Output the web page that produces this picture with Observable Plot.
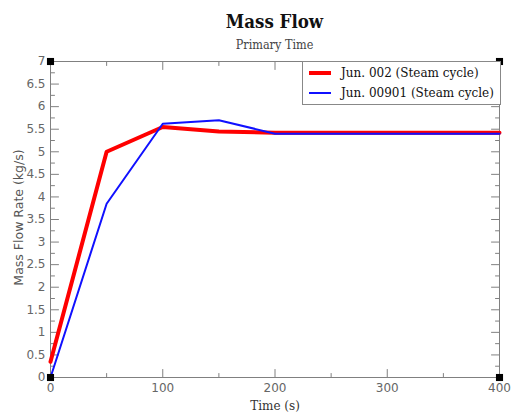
<!DOCTYPE html>
<html><head><meta charset="utf-8">
<script src="https://cdn.jsdelivr.net/npm/d3@7"></script>
<script src="https://cdn.jsdelivr.net/npm/@observablehq/plot@0.6"></script>
<style>
body{margin:0;background:#fff;width:512px;height:414px;overflow:hidden;position:relative}
#head{position:relative;height:54px}
#title{position:absolute;left:50px;width:449px;top:12px;text-align:center;font:bold 18.5px/19px "DejaVu Serif Condensed","DejaVu Serif",serif;font-stretch:condensed;color:#111}
#sub{position:absolute;left:50px;width:449px;top:38.5px;text-align:center;font:12.5px/12.5px "DejaVu Serif Condensed","DejaVu Serif",serif;font-stretch:condensed;color:#444}
#legend{position:absolute;left:302px;top:61px;width:197px;height:42px;border:1px solid #888;background:#fff;font:12px "DejaVu Serif",serif;color:#111}
.sw{position:absolute;left:6px;width:22px}
.lt{position:absolute;left:38px;white-space:nowrap;line-height:12px}
</style></head><body>
<div id="head"><div id="title">Mass Flow</div><div id="sub">Primary Time</div></div>
<div id="chart"></div>
<div id="legend"></div>
<script>
const time = [0, 50, 100, 150, 200, 400];
const jun002 = [0.35, 5.0, 5.55, 5.45, 5.42, 5.42];
const jun00901 = [0.0, 3.85, 5.62, 5.70, 5.40, 5.40];
const seriesNames = ["Jun. 002 (Steam cycle)", "Jun. 00901 (Steam cycle)"];
const seriesColors = ["#ff0000", "#1010ff"];
const seriesWidths = [4, 2];
const xMajor = [0, 100, 200, 300, 400];
const xMinor = [50, 150, 250, 350];
const yMajor = [0, 0.5, 1, 1.5, 2, 2.5, 3, 3.5, 4, 4.5, 5, 5.5, 6, 6.5, 7];
const yMinor = [0.25, 0.75, 1.25, 1.75, 2.25, 2.75, 3.25, 3.75, 4.25, 4.75, 5.25, 5.75, 6.25, 6.75];
const xLabel = "Time (s)";
const yLabel = "Mass Flow Rate (kg/s)";

const rows = time.flatMap((t, i) => [
  {t, v: jun002[i], s: seriesNames[0]},
  {t, v: jun00901[i], s: seriesNames[1]}
]);
const tickShape = {draw(ctx, l) { ctx.moveTo(0, 0); ctx.lineTo(0, -l); }};
const gray = "#808080";
function yTicks(vals, len, anchor, rot) {
  return Plot.vector(vals, {y: d => d, frameAnchor: anchor, rotate: rot, length: len, anchor: "start", shape: tickShape, stroke: gray, strokeWidth: 1});
}
function xTicks(vals, len, anchor, rot) {
  return Plot.vector(vals, {x: d => d, frameAnchor: anchor, rotate: rot, length: len, anchor: "start", shape: tickShape, stroke: gray, strokeWidth: 1});
}
const fmt = d => String(d);

const chart = Plot.plot({
  width: 512, height: 360,
  marginLeft: 50, marginRight: 13, marginTop: 7, marginBottom: 37,
  style: {fontFamily: "'DejaVu Sans', sans-serif", fontSize: "12px", color: "#555", background: "#fff"},
  x: {domain: [0, 400]},
  y: {domain: [0, 7]},
  color: {domain: seriesNames, range: seriesColors},
  marks: [
    Plot.frame({stroke: gray, strokeWidth: 1}),
    yTicks(yMajor, 8, "left", 90), yTicks(yMinor, 4, "left", 90),
    yTicks(yMajor, 8, "right", 270), yTicks(yMinor, 4, "right", 270),
    xTicks(xMajor, 8, "bottom", 0), xTicks(xMinor, 4, "bottom", 0),
    xTicks(xMajor, 8, "top", 180), xTicks(xMinor, 4, "top", 180),
    Plot.axisY(yMajor, {tickSize: 0, tickPadding: 5, label: null, tickFormat: fmt, fill: "#666"}),
    Plot.axisX(xMajor, {tickSize: 0, tickPadding: 6, label: null, tickFormat: fmt, fill: "#666"}),
    Plot.line(rows, {x: "t", y: "v", z: "s", stroke: "s", strokeWidth: d => d.s === seriesNames[0] ? seriesWidths[0] : seriesWidths[1]}),
    Plot.text([xLabel], {text: d => d, frameAnchor: "bottom", dy: 32, fontFamily: "'DejaVu Serif', serif", fontSize: 12, fill: "#333"}),
    Plot.text([yLabel], {text: d => d, frameAnchor: "left", textAnchor: "middle", rotate: -90, dx: -32, dy: -2, fontSize: 12.5, fill: "#555"}),
    ...["top-left", "top-right", "bottom-left", "bottom-right"].map(a => Plot.dot([a], {frameAnchor: a, symbol: "square", r: 4, fill: "#000"}))
  ]
});
document.getElementById("chart").appendChild(chart);

const leg = document.getElementById("legend");
seriesNames.forEach((n, i) => {
  const top = 11 + i * 20;
  const sw = document.createElement("div");
  sw.className = "sw";
  sw.style.top = (top - seriesWidths[i] / 2) + "px";
  sw.style.height = seriesWidths[i] + "px";
  sw.style.background = seriesColors[i];
  leg.appendChild(sw);
  const t = document.createElement("div");
  t.className = "lt";
  t.style.top = (top - 6) + "px";
  t.textContent = n;
  leg.appendChild(t);
});
</script>
</body></html>
